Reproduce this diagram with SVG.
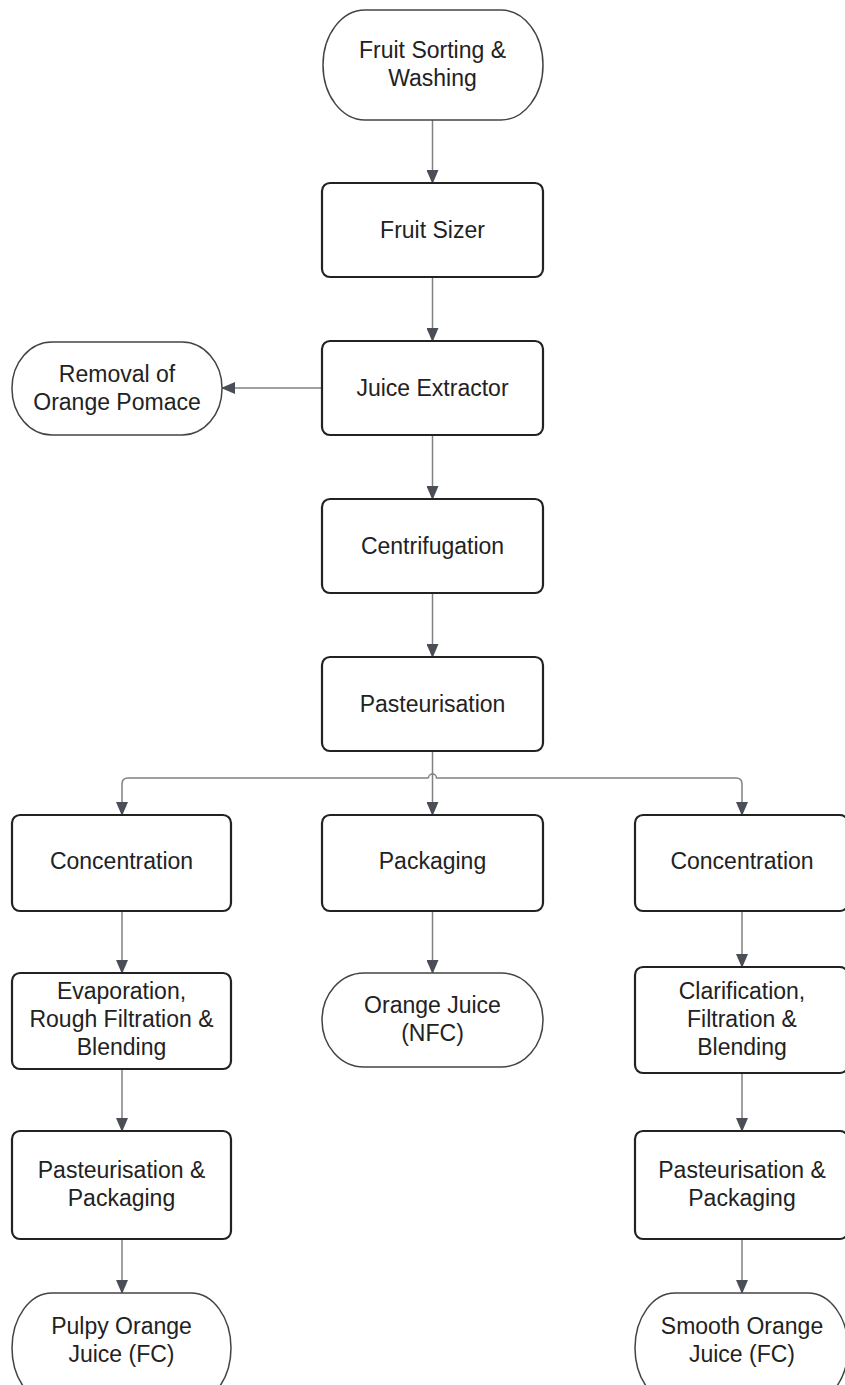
<svg xmlns="http://www.w3.org/2000/svg" width="845" height="1385" viewBox="0 0 845 1385">
<defs>
<style>
.proc{fill:#fff;stroke:#222;stroke-width:2.2}
.term{fill:#fff;stroke:#444;stroke-width:1.5}
.t{font-family:"Liberation Sans",Arial,sans-serif;font-size:23px;fill:#222;text-anchor:middle}
.c{fill:none;stroke:#808080;stroke-width:1.5}
</style>
<marker id="ah" markerWidth="14" markerHeight="12" refX="13" refY="6" orient="auto" markerUnits="userSpaceOnUse" viewBox="0 0 14 12">
<path d="M0,0 L14,6 L0,12 Z" fill="#4a4e57"/>
</marker>
</defs>
<rect width="845" height="1385" fill="#fff"/>
<g id="connectors">
<path class="c" d="M432.5 120 V183" marker-end="url(#ah)"/>
<path class="c" d="M432.5 277 V341" marker-end="url(#ah)"/>
<path class="c" d="M322 388 H222" marker-end="url(#ah)"/>
<path class="c" d="M432.5 435 V499" marker-end="url(#ah)"/>
<path class="c" d="M432.5 593 V657" marker-end="url(#ah)"/>
<path class="c" d="M432.5 751 V815" marker-end="url(#ah)"/>
<path class="c" d="M428.5 778 H128 Q122 778 122 784 V815" marker-end="url(#ah)"/>
<path class="c" d="M428.5 778 A4 4 0 0 1 436.5 778 H736 Q742 778 742 784 V815" marker-end="url(#ah)"/>
<path class="c" d="M122 911 V973" marker-end="url(#ah)"/>
<path class="c" d="M432.5 911 V973" marker-end="url(#ah)"/>
<path class="c" d="M742 911 V967" marker-end="url(#ah)"/>
<path class="c" d="M122 1069 V1131" marker-end="url(#ah)"/>
<path class="c" d="M742 1073 V1131" marker-end="url(#ah)"/>
<path class="c" d="M122 1239 V1293" marker-end="url(#ah)"/>
<path class="c" d="M742 1239 V1293" marker-end="url(#ah)"/>
</g>
<g id="n1"><rect class="term" x="323" y="10" width="220" height="110" rx="42" ry="55"/>
<text class="t" x="432.5" y="58">Fruit Sorting &amp;</text><text class="t" x="432.5" y="86">Washing</text></g>
<g id="n2"><rect class="proc" x="322" y="183" width="221" height="94" rx="8"/>
<text class="t" x="432.5" y="238">Fruit Sizer</text></g>
<g id="n3"><rect class="proc" x="322" y="341" width="221" height="94" rx="8"/>
<text class="t" x="432.5" y="396">Juice Extractor</text></g>
<g id="n4"><rect class="term" x="12" y="342" width="210" height="93" rx="40" ry="46"/>
<text class="t" x="117" y="382">Removal of</text><text class="t" x="117" y="410">Orange Pomace</text></g>
<g id="n5"><rect class="proc" x="322" y="499" width="221" height="94" rx="8"/>
<text class="t" x="432.5" y="554">Centrifugation</text></g>
<g id="n6"><rect class="proc" x="322" y="657" width="221" height="94" rx="8"/>
<text class="t" x="432.5" y="712">Pasteurisation</text></g>
<g id="n7"><rect class="proc" x="12" y="815" width="219" height="96" rx="8"/>
<text class="t" x="121.5" y="869">Concentration</text></g>
<g id="n8"><rect class="proc" x="322" y="815" width="221" height="96" rx="8"/>
<text class="t" x="432.5" y="869">Packaging</text></g>
<g id="n9"><rect class="proc" x="635" y="815" width="213" height="96" rx="8"/>
<text class="t" x="742" y="869">Concentration</text></g>
<g id="n10"><rect class="proc" x="12" y="973" width="219" height="96" rx="8"/>
<text class="t" x="121.5" y="999">Evaporation,</text><text class="t" x="121.5" y="1027">Rough Filtration &amp;</text><text class="t" x="121.5" y="1055">Blending</text></g>
<g id="n11"><rect class="term" x="322" y="973" width="221" height="94" rx="42" ry="47"/>
<text class="t" x="432.5" y="1013">Orange Juice</text><text class="t" x="432.5" y="1041">(NFC)</text></g>
<g id="n12"><rect class="proc" x="635" y="967" width="213" height="106" rx="8"/>
<text class="t" x="742" y="999">Clarification,</text><text class="t" x="742" y="1027">Filtration &amp;</text><text class="t" x="742" y="1055">Blending</text></g>
<g id="n13"><rect class="proc" x="12" y="1131" width="219" height="108" rx="8"/>
<text class="t" x="121.5" y="1178">Pasteurisation &amp;</text><text class="t" x="121.5" y="1206">Packaging</text></g>
<g id="n14"><rect class="proc" x="635" y="1131" width="213" height="108" rx="8"/>
<text class="t" x="742" y="1178">Pasteurisation &amp;</text><text class="t" x="742" y="1206">Packaging</text></g>
<g id="n15"><rect class="term" x="12" y="1293" width="219" height="110" rx="40" ry="55"/>
<text class="t" x="121.5" y="1334">Pulpy Orange</text><text class="t" x="121.5" y="1362">Juice (FC)</text></g>
<g id="n16"><rect class="term" x="635" y="1293" width="213" height="110" rx="40" ry="55"/>
<text class="t" x="742" y="1334">Smooth Orange</text><text class="t" x="742" y="1362">Juice (FC)</text></g>
</svg>
